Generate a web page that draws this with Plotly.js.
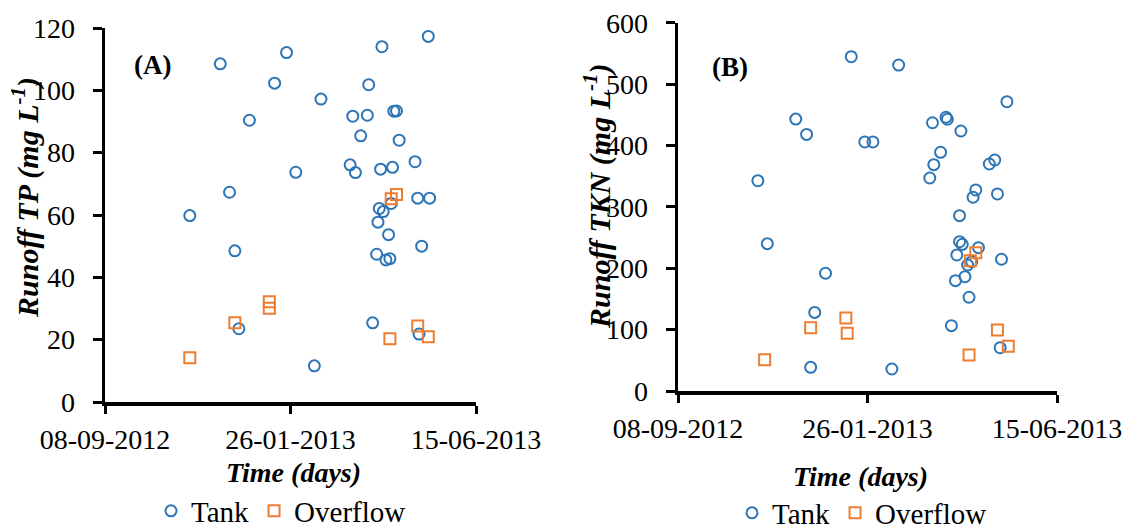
<!DOCTYPE html>
<html>
<head>
<meta charset="utf-8">
<script src="https://cdn.plot.ly/plotly-3.0.1.min.js"></script>
<style>
  html, body { margin: 0; padding: 0; background: #fff; }
  #chart { width: 1129px; height: 530px; }
</style>
</head>
<body>
<div id="chart"></div>
<script>
// ---------- Data ----------
const tankDatesA = ["2012-11-11","2012-12-04","2012-12-11","2012-12-15","2012-12-18","2012-12-26",
  "2013-01-14","2013-01-23","2013-01-30","2013-02-13","2013-02-18","2013-03-12","2013-03-14",
  "2013-03-16","2013-03-20","2013-03-25","2013-03-26","2013-03-29","2013-04-01","2013-04-02",
  "2013-04-03","2013-04-04","2013-04-05","2013-04-06","2013-04-08","2013-04-10","2013-04-11",
  "2013-04-12","2013-04-13","2013-04-14","2013-04-16","2013-04-18","2013-04-30","2013-05-02",
  "2013-05-03","2013-05-05","2013-05-10","2013-05-11"];
const tankTP = [59.8,108.5,67.3,48.5,23.5,90.4,
  102.3,112.1,73.7,11.6,97.2,76.1,91.7,
  73.6,85.4,92.0,101.8,25.4,47.4,57.7,
  62.1,74.7,114.0,61.1,45.6,53.7,46.0,
  63.7,75.3,93.3,93.4,84.0,77.1,65.4,
  21.8,50.0,117.3,65.4];

const overflowDatesA = ["2012-11-11","2012-12-15","2013-01-10","2013-01-10","2013-04-11",
  "2013-04-12","2013-04-16","2013-05-02","2013-05-10"];
const overflowTP = [14.2,25.4,32.2,30.1,20.3,65.2,66.6,24.4,20.9];

const tankDatesB = ["2012-11-06","2012-11-13","2012-12-04","2012-12-12","2012-12-18","2012-12-15",
  "2012-12-26","2013-01-14","2013-01-24","2013-01-30","2013-02-13","2013-02-18","2013-03-13",
  "2013-03-15","2013-03-16","2013-03-21","2013-03-25","2013-03-26","2013-03-29","2013-04-01",
  "2013-04-02","2013-04-04","2013-04-04","2013-04-05","2013-04-06","2013-04-08","2013-04-10",
  "2013-04-11","2013-04-13","2013-04-14","2013-04-16","2013-04-18","2013-04-26","2013-04-30",
  "2013-05-02","2013-05-04","2013-05-05","2013-05-09"];
const tankTKN = [342.6,240.0,443.0,418.0,128.0,38.6,
  191.8,544.6,405.7,405.7,35.8,531.0,347.0,
  437.0,368.7,388.9,446.0,442.7,106.4,179.7,
  221.6,285.6,243.2,423.6,239.0,186.2,205.3,
  152.7,210.7,315.6,327.5,233.5,369.8,376.3,
  321.0,70.5,214.6,471.3];

const overflowDatesB = ["2012-11-11","2012-12-15","2013-01-10","2013-01-11","2013-04-11",
  "2013-04-12","2013-04-16","2013-05-02","2013-05-10"];
const overflowTKN = [51.0,103.0,119.0,94.0,58.7,212.3,225.3,99.4,72.8];

const tickDates  = ["2012-09-08","2013-01-26","2013-06-15"];
const tickLabels = ["08-09-2012","26-01-2013","15-06-2013"];
const xRange = ["2012-09-08","2013-06-15"];

// ---------- Styles ----------
const W = 1129, H = 530;
const FONT = "Liberation Serif";
const BLUE = "#2E75B6";
const ORANGE = "#ED7D31";
const px = v => v / W;
const py = v => 1 - v / H;

const tankMarker = {symbol: "circle-open", size: 11, color: BLUE, line: {width: 2, color: BLUE}};
const overMarker = {symbol: "square-open", size: 11, color: ORANGE, line: {width: 2, color: ORANGE}};

const traces = [
  {x: tankDatesA, y: tankTP, type: "scatter", mode: "markers", name: "Tank",
   marker: tankMarker, xaxis: "x", yaxis: "y", legend: "legend"},
  {x: overflowDatesA, y: overflowTP, type: "scatter", mode: "markers", name: "Overflow",
   marker: overMarker, xaxis: "x", yaxis: "y", legend: "legend"},
  {x: tankDatesB, y: tankTKN, type: "scatter", mode: "markers", name: "Tank",
   marker: tankMarker, xaxis: "x2", yaxis: "y2", legend: "legend2"},
  {x: overflowDatesB, y: overflowTKN, type: "scatter", mode: "markers", name: "Overflow",
   marker: overMarker, xaxis: "x2", yaxis: "y2", legend: "legend2"}
];

function xAxis(domain, anchor) {
  return {
    type: "date", domain: domain, anchor: anchor, range: xRange,
    tickmode: "array", tickvals: tickDates, ticktext: tickLabels,
    ticks: "outside", ticklen: 8, tickwidth: 3, tickcolor: "#000",
    showline: true, linewidth: 3.5, linecolor: "#000",
    showgrid: false, zeroline: false, automargin: false,
    ticklabelstandoff: 2,
    tickfont: {family: FONT, size: 28, color: "#000"}
  };
}
function yAxis(domain, anchor, range, dtick) {
  return {
    domain: domain, anchor: anchor, range: range, dtick: dtick, tick0: 0,
    ticks: "outside", ticklen: 9, tickwidth: 3, tickcolor: "#000",
    showline: true, linewidth: 3.5, linecolor: "#000",
    showgrid: false, zeroline: false, automargin: false,
    ticklabelstandoff: 12,
    tickfont: {family: FONT, size: 28, color: "#000"}
  };
}

const layout = {
  width: W, height: H,
  font: {family: FONT, color: "#000"},
  margin: {l: 0, r: 0, t: 0, b: 0, pad: 0, autoexpand: false},
  paper_bgcolor: "#fff", plot_bgcolor: "#fff",
  showlegend: true,
  xaxis:  xAxis([px(105), px(476)], "y"),
  yaxis:  yAxis([py(402), py(28)], "x", [0, 120], 20),
  xaxis2: xAxis([px(678), px(1057)], "y2"),
  yaxis2: yAxis([py(391), py(22.7)], "x2", [0, 600], 100),
  legend: {orientation: "h", x: px(151), y: py(511), xanchor: "left", yanchor: "middle",
           bgcolor: "rgba(0,0,0,0)", font: {family: FONT, size: 29, color: "#000"}, itemclick: false},
  legend2: {orientation: "h", x: px(732), y: py(513), xanchor: "left", yanchor: "middle",
           bgcolor: "rgba(0,0,0,0)", font: {family: FONT, size: 29, color: "#000"}, itemclick: false},
  annotations: [
    {text: "<b>(A)</b>", xref: "paper", yref: "paper", x: px(152), y: py(65),
     showarrow: false, xanchor: "center", yanchor: "middle", font: {family: FONT, size: 27, color: "#000"}},
    {text: "<b>(B)</b>", xref: "paper", yref: "paper", x: px(730), y: py(67),
     showarrow: false, xanchor: "center", yanchor: "middle", font: {family: FONT, size: 27, color: "#000"}},
    {text: "<b><i>Time (days)</i></b>", xref: "paper", yref: "paper", x: px(293), y: py(472),
     showarrow: false, xanchor: "center", yanchor: "middle", font: {family: FONT, size: 28, color: "#000"}},
    {text: "<b><i>Time (days)</i></b>", xref: "paper", yref: "paper", x: px(860), y: py(476),
     showarrow: false, xanchor: "center", yanchor: "middle", font: {family: FONT, size: 28, color: "#000"}},
    {text: "<b><i>Runoff TP (mg L<sup>-1</sup>)</i></b>", xref: "paper", yref: "paper", x: px(26), y: py(198),
     textangle: -90, showarrow: false, xanchor: "center", yanchor: "middle", font: {family: FONT, size: 30, color: "#000"}},
    {text: "<b><i>Runoff TKN (mg L<sup>-1</sup>)</i></b>", xref: "paper", yref: "paper", x: px(597), y: py(197),
     textangle: -90, showarrow: false, xanchor: "center", yanchor: "middle", font: {family: FONT, size: 30, color: "#000"}}
  ]
};

Plotly.newPlot("chart", traces, layout, {displayModeBar: false, staticPlot: true});
</script>
</body>
</html>
